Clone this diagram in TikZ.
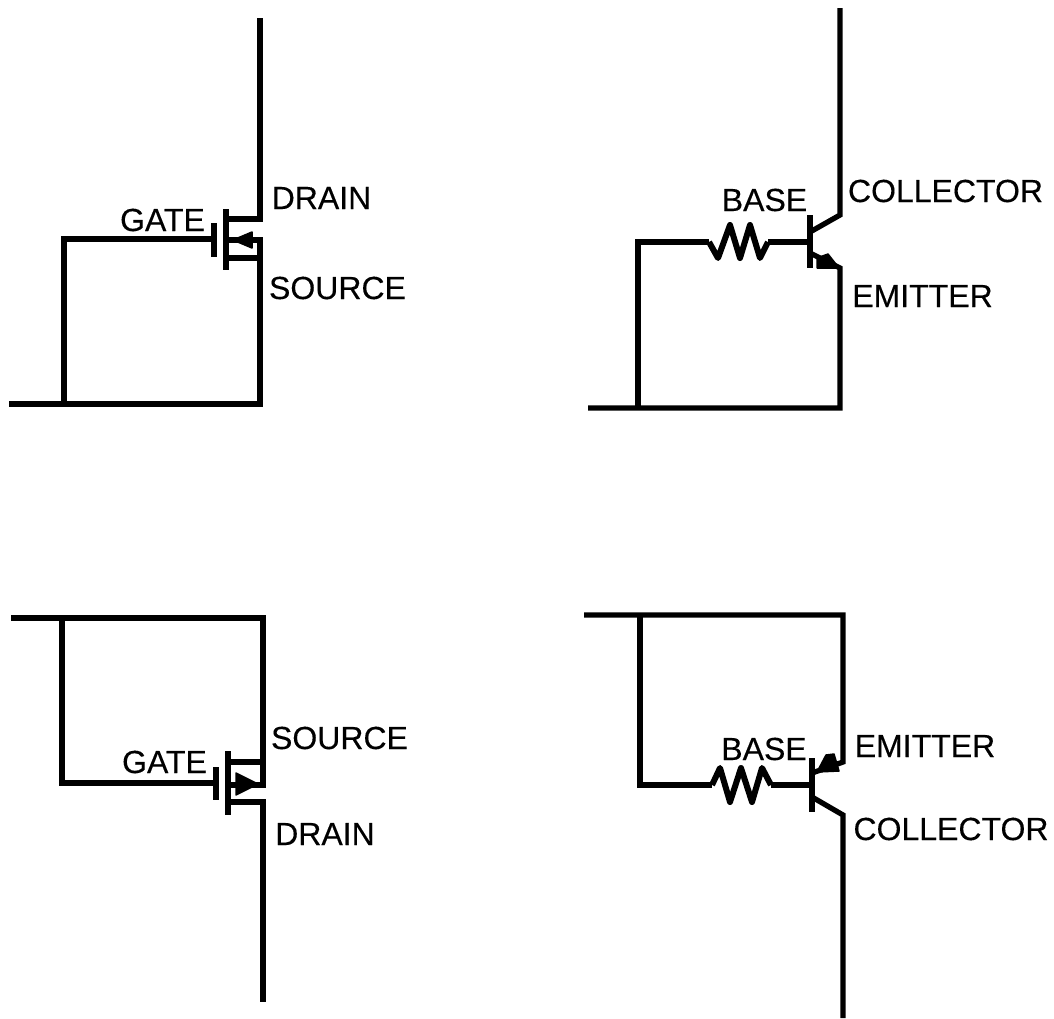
\documentclass[tikz,border=0pt]{standalone}
\usepackage{fontspec}
\setmainfont[FakeBold=0.25]{Liberation Sans}
\tikzset{
  wire/.style={line width=5.3pt,line cap=butt,line join=miter,miter limit=2,black},
  zig/.style={line width=6pt,line join=round,black},
  head/.style={fill=black,draw=black,line width=1.5pt,line join=round},
  lbl/.style={inner sep=0pt,outer sep=0pt,font=\fontsize{32}{32}\selectfont,text=black}
}
\begin{document}
\begin{tikzpicture}[x=1pt,y=-1pt]
\useasboundingbox (0,0) rectangle (1054,1018);
% --- top-left MOSFET
\coordinate (a1) at (9,404);\coordinate (a2) at (64,404);\coordinate (a3) at (260,404);
\coordinate (a4) at (64,239);\coordinate (a5) at (214,239);
\coordinate (a6) at (214,223);\coordinate (a7) at (214,257);
\coordinate (a8) at (226,209);\coordinate (a9) at (226,270);
\coordinate (a10) at (226,219);\coordinate (a11) at (260,219);\coordinate (a12) at (260,18);
\coordinate (a13) at (226,240);\coordinate (a14) at (260,240);
\coordinate (a15) at (226,258);
\draw[wire] (a1)--(a3)--(a14)--(a13);
\draw[wire] (a2)--(a4)--(a5);
\draw[wire] (a6)--(a7);\draw[wire] (a8)--(a9);
\draw[wire] (a10)--(a11)--(a12);
\draw[wire] (a15)--(a15-|a3);
\filldraw[head] (233,240)--(252,232)--(252,248)--cycle;
\node[lbl] (g1) at (162.5,220) {GATE};
\node[lbl] (d1) at (321.5,198) {DRAIN};
\node[lbl] (s1) at (337.5,288) {SOURCE};
% --- top-right BJT
\coordinate (b1) at (588,408);\coordinate (b2) at (638,408);\coordinate (b3) at (840,408);
\coordinate (b4) at (638,242);\coordinate (b5) at (810,242);
\coordinate (b6) at (810,215);\coordinate (b7) at (810,268);
\coordinate (b8) at (810,232);\coordinate (b9) at (840,215);\coordinate (b10) at (840,8);
\coordinate (b11) at (810,253);\coordinate (b12) at (840,268);
\coordinate (r1) at (709,242);\coordinate (r2) at (768,242);
\draw[wire] (b1)--(b3)--(b12)--(b11);
\draw[wire] (b2)--(b4)--(r1);
\draw[wire] (r2)--(b5);
\draw[wire] (b6)--(b7);
\draw[wire] (b8)--(b9)--(b10);
\draw[zig] (r1)--(718,258)--(730,225)--(740,258)--(750,225)--(760,258)--(r2);
\filldraw[head] (817,258)--(828,254)--(839,268)--(817,268)--cycle;
\node[lbl] (b1l) at (764.5,200) {BASE};
\node[lbl] (c1) at (945.5,191) {COLLECTOR};
\node[lbl] (e1) at (922.5,296) {EMITTER};
% --- bottom-left MOSFET
\coordinate (p1) at (11,618);\coordinate (p2) at (62,618);\coordinate (p3) at (263,618);
\coordinate (p4) at (62,783);\coordinate (p5) at (216,783);
\coordinate (p6) at (216,767);\coordinate (p7) at (216,800);
\coordinate (p8) at (228,751);\coordinate (p9) at (228,815);
\coordinate (p10) at (228,762);\coordinate (p11) at (263,762);
\coordinate (p12) at (228,785);\coordinate (p13) at (263,785);
\coordinate (p14) at (228,802);\coordinate (p15) at (263,802);\coordinate (p16) at (263,1002);
\draw[wire] (p1)--(p3)--(p13)--(p12);
\draw[wire] (p2)--(p4)--(p5);
\draw[wire] (p6)--(p7);\draw[wire] (p8)--(p9);
\draw[wire] (p10)--(p11);
\draw[wire] (p14)--(p15)--(p16);
\filldraw[head] (236,773)--(258,784)--(236,795)--cycle;
\node[lbl] (g2) at (164.5,762) {GATE};
\node[lbl] (s2) at (339.5,738) {SOURCE};
\node[lbl] (d2) at (325,834) {DRAIN};
% --- bottom-right BJT
\coordinate (q1) at (584,615);\coordinate (q2) at (640,615);\coordinate (q3) at (843,615);
\coordinate (q4) at (640,785);\coordinate (q5) at (812,785);
\coordinate (q6) at (812,758);\coordinate (q7) at (812,812);
\coordinate (q8) at (812,773);\coordinate (q9) at (843,762);
\coordinate (q10) at (812,797);\coordinate (q11) at (843,815);\coordinate (q12) at (843,1018);
\coordinate (r3) at (712,785);\coordinate (r4) at (771,785);
\draw[wire] (q1)--(q3)--(q9)--(q8);
\draw[wire] (q2)--(q4)--(r3);
\draw[wire] (r4)--(q5);
\draw[wire] (q6)--(q7);
\draw[wire] (q10)--(q11)--(q12);
\draw[zig] (r3)--(720,768)--(730,802)--(741,768)--(752,802)--(762,768)--(r4);
\filldraw[head] (817,772)--(826,755)--(834,754)--(839,771)--cycle;
\node[lbl] (b2l) at (764,749) {BASE};
\node[lbl] (e2) at (925,746) {EMITTER};
\node[lbl] (c2) at (951,829) {COLLECTOR};
\end{tikzpicture}
\end{document}
